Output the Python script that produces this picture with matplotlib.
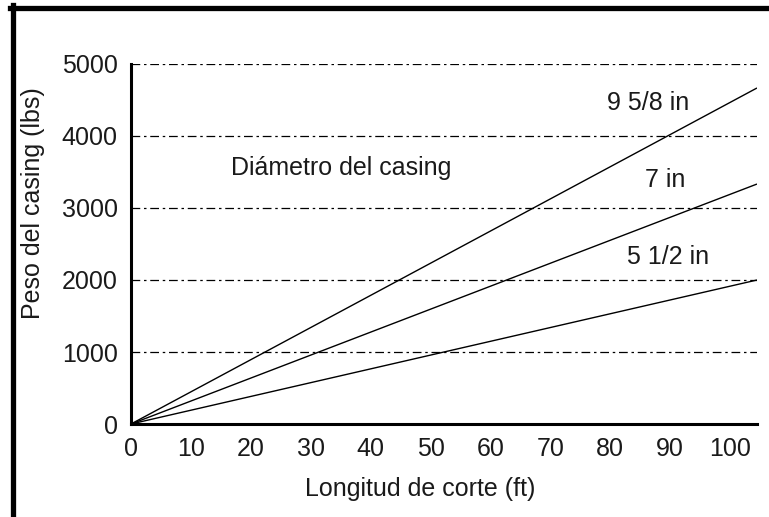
import matplotlib
matplotlib.use("Agg")
import matplotlib.pyplot as plt
from matplotlib.lines import Line2D

plt.rcParams['font.family'] = ['Liberation Sans', 'DejaVu Sans']

# ---- data ----
longitud = [0, 104.5]                      # ft
peso_9_58 = [0, 4667]                      # lbs
peso_7 = [0, 3333]
peso_5_12 = [0, 2000]
series_labels = ["9 5/8 in", "7 in", "5 1/2 in"]
label_pos = [(86.3, 4458), (89.1, 3389), (89.6, 2319)]
y_ticks = [0, 1000, 2000, 3000, 4000, 5000]
x_ticks = [0, 10, 20, 30, 40, 50, 60, 70, 80, 90, 100]
annot_text = "Diámetro del casing"
annot_pos = (35.1, 3556)

W, H = 769, 517
fig = plt.figure(figsize=(W / 100, H / 100), dpi=100)

def px(x, y):
    return x / W, 1 - y / H

left, right, top, bottom = 131, 757, 64, 424
ax = fig.add_axes([left / W, 1 - bottom / H, (right - left) / W, (bottom - top) / H])

fs = 18
for ys, lab, pos in zip([peso_9_58, peso_7, peso_5_12], series_labels, label_pos):
    ax.plot(longitud, ys, color='black', lw=1.0, solid_capstyle='butt')
    ax.text(pos[0], pos[1], lab, fontsize=fs, ha='center', va='center', color='#1a1a1a')

ax.text(annot_pos[0], annot_pos[1], annot_text, fontsize=fs, ha='center', va='center', color='#1a1a1a')

for yv in y_ticks[1:]:
    ax.axhline(yv, color='black', lw=0.9, linestyle=(0, (7, 3, 2, 3)), zorder=0)

ax.set_xlim(0, 104.5)
ax.set_ylim(0, 5000)
ax.set_xticks(x_ticks)
ax.set_yticks(y_ticks)
ax.set_xticklabels([str(v) for v in x_ticks])
ax.set_yticklabels([str(v) for v in y_ticks])
ax.tick_params(axis='both', length=0, labelsize=fs, colors='#1a1a1a')
ax.tick_params(axis='y', pad=9.5)
ax.tick_params(axis='x', pad=9.5)

for s in ['top', 'right']:
    ax.spines[s].set_visible(False)
for s in ['left', 'bottom']:
    ax.spines[s].set_linewidth(2.2)
    ax.spines[s].set_color('black')

fig.text(*px(420, 489), "Longitud de corte (ft)", fontsize=fs, ha='center', va='center', color='#1a1a1a')
fig.text(*px(33, 203), "Peso del casing (lbs)", fontsize=fs, ha='center', va='center',
         rotation=90, color='#1a1a1a')

# outer frame (cropped screenshot border)
fig.add_artist(Line2D([10 / W, 1.01], [1 - 7.5 / H, 1 - 7.5 / H], color='black', lw=3.8,
                      transform=fig.transFigure))
fig.add_artist(Line2D([12.5 / W, 12.5 / W], [1 - 5 / H, -0.01], color='black', lw=3.8,
                      transform=fig.transFigure))

fig.savefig("out.png", dpi=100)
